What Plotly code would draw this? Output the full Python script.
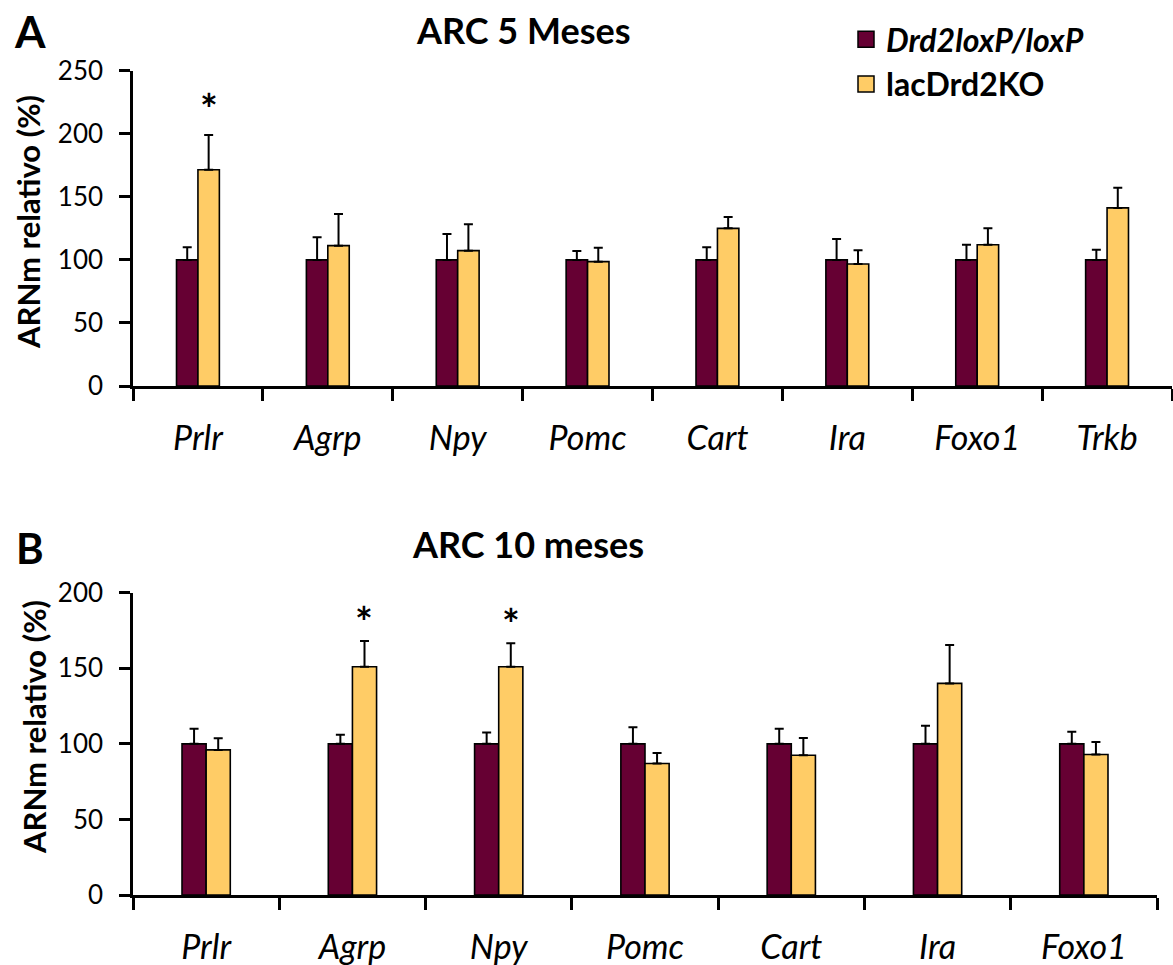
import plotly.graph_objects as go

# ---- data -------------------------------------------------------------
genes_a = ["Prlr", "Agrp", "Npy", "Pomc", "Cart", "Ira", "Foxo1", "Trkb"]
ctrl_a = [100, 100, 100, 100, 100, 100, 100, 100]
ctrl_a_err = [10, 18, 20.5, 7, 10, 16.5, 12, 8]
ko_a = [171.5, 111.3, 107.3, 98.6, 125, 96.7, 112, 141.2]
ko_a_err = [27.5, 25, 21, 11, 9, 11, 13, 16]
sig_a = ["Prlr"]

genes_b = ["Prlr", "Agrp", "Npy", "Pomc", "Cart", "Ira", "Foxo1"]
ctrl_b = [100, 100, 100, 100, 100, 100, 100]
ctrl_b_err = [10, 6, 7.5, 11, 10, 12, 8]
ko_b = [96, 151, 151, 87, 92.5, 140, 93]
ko_b_err = [7.7, 17, 15.5, 7, 11.4, 25.4, 8.2]
sig_b = ["Agrp", "Npy"]

ctrl_name = "<b><i>Drd2loxP/loxP</i></b>"
ko_name = "<b>lacDrd2KO</b>"

# ---- style ------------------------------------------------------------
W, H = 1173, 965
FONT = "Lato"
C_CTRL = "#660033"
C_KO = "#FFCC66"
BARGAP = 0.67

dom_xa = [133 / W, 1172 / W]
dom_ya = [1 - 386 / H, 1 - 70.7 / H]
dom_xb = [133 / W, 1157 / W]
dom_yb = [1 - 895 / H, 1 - 592.7 / H]

fig = go.Figure()


def add_panel(genes, ctrl, ctrl_err, ko, ko_err, xa, ya):
    common = dict(
        x=genes,
        xaxis=xa,
        yaxis=ya,
        marker_line=dict(color="black", width=1.6),
        showlegend=False,
        hoverinfo="skip",
    )
    fig.add_trace(go.Bar(
        y=ctrl, marker_color=C_CTRL, name=ctrl_name, offsetgroup="c",
        error_y=dict(type="data", array=ctrl_err, arrayminus=[0] * len(ctrl),
                     symmetric=False, color="black", thickness=2, width=4.5),
        **common))
    fig.add_trace(go.Bar(
        y=ko, marker_color=C_KO, name=ko_name, offsetgroup="k",
        error_y=dict(type="data", array=ko_err, arrayminus=[0] * len(ko),
                     symmetric=False, color="black", thickness=2, width=4.5),
        **common))


add_panel(genes_a, ctrl_a, ctrl_a_err, ko_a, ko_a_err, "x", "y")
add_panel(genes_b, ctrl_b, ctrl_b_err, ko_b, ko_b_err, "x2", "y2")

# legend entries (square swatches)
for nm, col in [(ctrl_name, C_CTRL), (ko_name, C_KO)]:
    fig.add_trace(go.Scatter(
        x=[None], y=[None], mode="markers", name=nm, legendgroup=nm,
        marker=dict(symbol="square", size=16, color=col,
                    line=dict(color="black", width=1.5)),
        xaxis="x", yaxis="y"))


# significance asterisks above the knockout bars
def add_stars(genes, ko, ko_err, sig, xa, ya, dom_x, shift):
    cat_px = (dom_x[1] - dom_x[0]) * W / len(genes)
    off = cat_px * (1 - BARGAP) / 4
    for g in sig:
        i = genes.index(g)
        fig.add_annotation(
            x=g, y=ko[i] + ko_err[i], xref=xa, yref=ya,
            text="<b>*</b>", showarrow=False, xshift=off, yshift=shift,
            yanchor="middle", font=dict(family=FONT, size=42, color="black"))


add_stars(genes_a, ko_a, ko_a_err, sig_a, "x", "y", dom_xa, 26)
add_stars(genes_b, ko_b, ko_b_err, sig_b, "x2", "y2", dom_xb, 19)

xaxis_style = dict(
    type="category", showline=True, linecolor="black", linewidth=2.5,
    ticks="outside", tickson="boundaries", ticklen=12, tickwidth=2.5,
    tickcolor="black", showgrid=False, zeroline=False,
    tickfont=dict(family=FONT, size=34, color="black", style="italic"),
    ticklabelstandoff=20,
)
yaxis_style = dict(
    showline=True, linecolor="black", linewidth=2.5,
    ticks="outside", ticklen=11, tickwidth=2.5, tickcolor="black",
    showgrid=False, zeroline=False, dtick=50,
    tickfont=dict(family=FONT, size=26, color="black"),
    ticklabelstandoff=11,
)

fig.update_layout(
    width=W, height=H,
    margin=dict(l=0, r=0, t=0, b=0, autoexpand=False),
    paper_bgcolor="white", plot_bgcolor="white",
    barmode="group", bargap=BARGAP, bargroupgap=0,
    xaxis=dict(domain=dom_xa, anchor="y", **xaxis_style),
    yaxis=dict(domain=dom_ya, anchor="x", range=[0, 250], **yaxis_style),
    xaxis2=dict(domain=dom_xb, anchor="y2", **xaxis_style),
    yaxis2=dict(domain=dom_yb, anchor="x2", range=[0, 200], **yaxis_style),
    legend=dict(x=846 / W, y=1 - 12 / H, xanchor="left", yanchor="top",
                traceorder="grouped", tracegroupgap=0,
                font=dict(family=FONT, size=32, color="black"),
                bgcolor="rgba(0,0,0,0)", itemclick=False),
    showlegend=True,
)

# panel letters, titles and y-axis titles
texts = [
    dict(text="<b>A</b>", x=30 / W, y=1 - 31 / H, size=44),
    dict(text="<b>B</b>", x=30 / W, y=1 - 548 / H, size=42),
    dict(text="<b>ARC 5 Meses</b>", x=523 / W, y=1 - 30 / H, size=36),
    dict(text="<b>ARC 10 meses</b>", x=528 / W, y=1 - 544 / H, size=36),
]
for t in texts:
    fig.add_annotation(xref="paper", yref="paper", x=t["x"], y=t["y"],
                       text=t["text"], showarrow=False,
                       xanchor="center", yanchor="middle",
                       font=dict(family=FONT, size=t["size"], color="black"))

for yc, xc in [(222, 28), (727, 34)]:
    fig.add_annotation(xref="paper", yref="paper", x=xc / W, y=1 - yc / H,
                       text="<b>ARNm relativo (%)</b>", textangle=-90,
                       showarrow=False, xanchor="center", yanchor="middle",
                       font=dict(family=FONT, size=31, color="black"))

fig.write_html("out.html")
